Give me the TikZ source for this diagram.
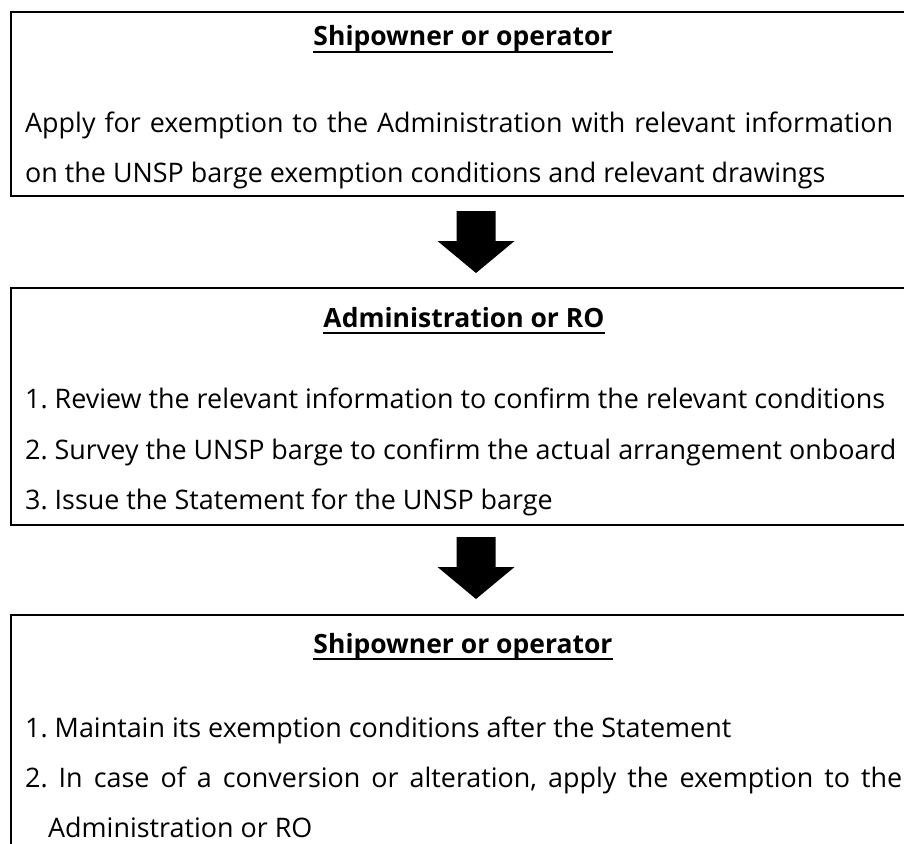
\documentclass[tikz,border=0pt]{standalone}
\usepackage{fontspec}
\setmainfont{Open Sans}
\usetikzlibrary{calc}
\frenchspacing
\begin{document}
\begin{tikzpicture}[x=1pt,y=-1pt,
  box/.style={draw=black,line width=2pt,anchor=north west,inner sep=0pt,minimum width=910pt},
  head/.style={anchor=base,inner sep=0pt,font=\fontsize{26.5}{30}\selectfont\bfseries},
  body/.style={anchor=base west,inner sep=0pt,font=\fontsize{26.9}{30}\selectfont\frenchspacing},
  uline/.style={line width=2pt},
  blockarrow/.style={fill=black}
]
\useasboundingbox (0,0) rectangle (904,843);
\clip (0,0) rectangle (904,843);
% boxes
\node[box,minimum height=184pt] (b1) at (10,11) {};
\node[box,minimum height=237pt] (b2) at (10,287) {};
\node[box,minimum height=260pt] (b3) at (10,614) {};
% headers
\node[head] (h1) at (463,46) {Shipowner or operator};
\node[head] (h2) at (464,327) {Administration or RO};
\node[head] (h3) at (463,653) {Shipowner or operator};
\foreach \h in {h1,h2,h3}{
  \draw[uline] ([yshift=-6pt]\h.base west) -- ([yshift=-6pt]\h.base east);
}
% box 1 text
\node[body] (t11) at (25,132) {\makebox[868pt][s]{Apply for exemption to the Administration with relevant information}};
\node[body] (t12) at (25,182) {on the UNSP barge exemption conditions and relevant drawings};
% box 2 text
\node[body] (t21) at (25,408) {1. Review the relevant information to confirm the relevant conditions};
\node[body] (t22) at (25,459) {2. Survey the UNSP barge to confirm the actual arrangement onboard};
\node[body] (t23) at (25,509) {3. Issue the Statement for the UNSP barge};
% box 3 text
\node[body] (t31) at (25,737) {1. Maintain its exemption conditions after the Statement};
\node[body] (t32) at (25,787) {\makebox[877pt][s]{2. In case of a conversion or alteration, apply the exemption to the}};
\node[body] (t33) at (48,837) {Administration or RO};
% block arrows between boxes
\coordinate (a1) at (476,211);
\coordinate (a2) at (476,537);
\foreach \a in {a1,a2}{
  \fill[blockarrow] ($(\a)+(-19.5,0)$) -- ($(\a)+(19.5,0)$) -- ($(\a)+(19.5,30)$)
    -- ($(\a)+(38.5,30)$) -- ($(\a)+(0,62)$) -- ($(\a)+(-38.5,30)$)
    -- ($(\a)+(-19.5,30)$) -- cycle;
}
\end{tikzpicture}
\end{document}
